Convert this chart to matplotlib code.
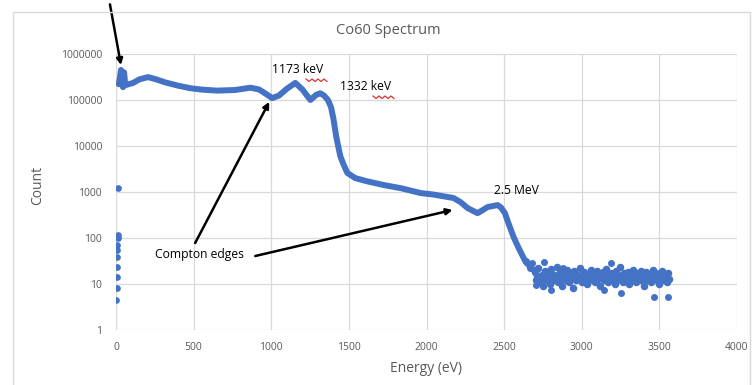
import matplotlib
matplotlib.use("Agg")
import matplotlib.pyplot as plt
from matplotlib.ticker import FixedLocator, FixedFormatter
from matplotlib.lines import Line2D
from matplotlib.patches import Rectangle

plt.rcParams['font.family'] = ['Open Sans', 'DejaVu Sans']

# ---------------- data ----------------
low_energy = [3, 4, 5, 6, 7, 8, 9, 10, 11, 12]
low_count = [4.5, 8, 14, 23, 38, 55, 70, 100, 117, 1250]

main_energy = [18, 25, 32, 38, 45, 52, 60, 80, 110, 150, 206, 260, 320, 400, 480, 555, 650,
               768, 865, 920, 960, 1006, 1050, 1100, 1155, 1200, 1252,
               1290, 1316, 1340, 1365, 1385, 1400, 1420, 1445, 1465, 1490,
               1542, 1620, 1723, 1840, 1961, 2045, 2174, 2220, 2265, 2329,
               2360, 2393, 2458, 2480, 2505, 2530, 2561, 2594, 2639, 2690]
main_count = [220000, 300000, 450000, 260000, 190000, 400000, 210000, 220000, 235000, 280000,
              315000, 280000, 240000, 205000, 180000, 168000, 160000,
              165000, 185000, 170000, 140000, 110000, 125000, 175000, 235000, 170000, 100000,
              130000, 140000, 125000, 100000, 70000, 40000, 15000, 6000, 4000, 2600,
              2000, 1700, 1420, 1200, 950, 880, 740, 600, 447, 347,
              400, 470, 520, 460, 347, 200, 105, 60, 30, 20]

tail_energy = [2700, 2707, 2714, 2721, 2728, 2735, 2742, 2749, 2756, 2763,
               2770, 2777, 2784, 2791, 2798, 2805, 2812, 2819, 2826, 2833,
               2840, 2847, 2854, 2861, 2868, 2875, 2882, 2889, 2896, 2903,
               2910, 2917, 2924, 2931, 2938, 2945, 2952, 2959, 2966, 2973,
               2980, 2987, 2994, 3001, 3008, 3015, 3022, 3029, 3036, 3043,
               3050, 3057, 3064, 3071, 3078, 3085, 3092, 3099, 3106, 3113,
               3120, 3127, 3134, 3141, 3148, 3155, 3162, 3169, 3176, 3183,
               3190, 3197, 3204, 3211, 3218, 3225, 3232, 3239, 3246, 3253,
               3260, 3267, 3274, 3281, 3288, 3295, 3302, 3309, 3316, 3323,
               3330, 3337, 3344, 3351, 3358, 3365, 3372, 3379, 3386, 3393,
               3400, 3407, 3414, 3421, 3428, 3435, 3442, 3449, 3456, 3463,
               3470, 3477, 3484, 3491, 3498, 3505, 3512, 3519, 3526, 3533,
               3540, 3547, 3554, 3561]
tail_count = [18, 12, 15, 22, 11, 14, 16, 9, 13, 19,
              15, 12, 17, 14, 10, 21, 13, 16, 12, 15,
              24, 11, 14, 18, 13, 9, 16, 15, 12, 20,
              14, 11, 17, 13, 15, 8, 19, 14, 12, 16,
              13, 22, 15, 11, 14, 18, 12, 16, 10, 15,
              13, 20, 14, 12, 17, 11, 15, 19, 13, 16,
              9, 14, 18, 12, 15, 21, 13, 11, 16, 14,
              17, 12, 15, 10, 19, 13, 16, 14, 23, 12,
              15, 11, 17, 14, 13, 18, 10, 15, 16, 12,
              20, 14, 13, 11, 17, 15, 12, 19, 14, 16,
              9, 13, 18, 15, 12, 16, 14, 11, 20, 13,
              15, 17, 12, 14, 10, 16, 13, 19, 15, 12,
              14, 11, 17, 13]

out_energy = [2640, 2665, 2680, 2703, 2755, 2800, 2877, 3142, 3187, 3252, 3465, 3555]
out_count = [32, 22, 28, 9.5, 30, 7.4, 22, 7.4, 28, 6.4, 5.2, 5.2]

x_ticks = [0, 500, 1000, 1500, 2000, 2500, 3000, 3500, 4000]
x_tick_labels = ["0", "500", "1000", "1500", "2000", "2500", "3000", "3500", "4000"]
y_ticks = [1, 10, 100, 1000, 10000, 100000, 1000000]
y_tick_labels = ["1", "10", "100", "1000", "10000", "100000", "1000000"]

title = "Co60 Spectrum"
x_label = "Energy (eV)"
y_label = "Count"

# ---------------- figure ----------------
W, H = 755, 385
fig = plt.figure(figsize=(W / 100, H / 100), dpi=100)
fig.patch.set_facecolor("white")

# chart border
fig.add_artist(Rectangle((13 / W, -0.05), (750 - 13) / W, 1 - 12 / H + 0.05,
                         transform=fig.transFigure, fill=False,
                         edgecolor="#d9d9d9", lw=1.0))

ax = fig.add_axes([116 / W, 1 - 330 / H, (737 - 116) / W, (330 - 54) / H])
ax.set_yscale("log")
ax.set_xlim(0, 4000)
ax.set_ylim(1, 1000000)

blue = "#4472C4"
ax.plot(main_energy, main_count, color=blue, lw=4.3, solid_capstyle="round",
        solid_joinstyle="round", zorder=3)
ax.plot(low_energy, low_count, linestyle="none", marker="o", ms=3.8, color=blue, zorder=3)
ax.plot(tail_energy, tail_count, linestyle="none", marker="o", ms=4.4, color=blue, zorder=3)
ax.plot(out_energy, out_count, linestyle="none", marker="o", ms=4.0, color=blue, zorder=3)

ax.xaxis.set_major_locator(FixedLocator(x_ticks))
ax.xaxis.set_major_formatter(FixedFormatter(x_tick_labels))
ax.yaxis.set_major_locator(FixedLocator(y_ticks))
ax.yaxis.set_major_formatter(FixedFormatter(y_tick_labels))
ax.yaxis.set_minor_locator(FixedLocator([]))
ax.tick_params(axis="both", length=0, labelsize=7.5, labelcolor="#595959")
ax.tick_params(axis="y", pad=10)
ax.tick_params(axis="x", pad=9)
ax.grid(True, color="#d9d9d9", lw=0.9)
ax.set_axisbelow(True)
for s in ax.spines.values():
    s.set_visible(False)

fig.text(388 / W, 1 - 30 / H, title, ha="center", va="center", fontsize=10.5, color="#595959")
fig.text(426 / W, 1 - 368 / H, x_label, ha="center", va="center", fontsize=10, color="#595959")
fig.text(38 / W, 1 - 185 / H, y_label, ha="center", va="center", rotation=90,
         fontsize=10, color="#595959")

# annotations
fs = 8.7
ax.text(1006, 450000, "1173 keV", fontsize=fs, color="black", va="center", ha="left")
ax.text(1445, 200000, "1332 keV", fontsize=fs, color="black", va="center", ha="left")
ax.text(2432, 1100, "2.5 MeV", fontsize=fs, color="black", va="center", ha="left")
ax.text(252, 43, "Compton edges", fontsize=fs, color="black", va="center", ha="left")

arrow = dict(arrowstyle="-|>", lw=1.8, color="black", mutation_scale=9, shrinkA=0, shrinkB=0)
ax.annotate("", xy=(987, 91000), xytext=(510, 78), arrowprops=arrow, annotation_clip=False)
ax.annotate("", xy=(2168, 407), xytext=(897, 40.6), arrowprops=arrow, annotation_clip=False)
ax.annotate("", xy=(32, 575000), xytext=(-39, 1.2e7), arrowprops=arrow, annotation_clip=False)

# red spell-check squiggles
def squiggle(x0, x1, y):
    xs, ys = [], []
    n = int((x1 - x0) / 3)
    for i in range(n + 1):
        xs.append((x0 + i * 3) / W)
        ys.append(1 - (y + (1.5 if i % 2 else -1.0)) / H)
    fig.add_artist(Line2D(xs, ys, transform=fig.transFigure, color="#e03030", lw=0.9))

squiggle(306, 328, 80)
squiggle(373, 396, 97)

fig.savefig("out.png", dpi=100)
